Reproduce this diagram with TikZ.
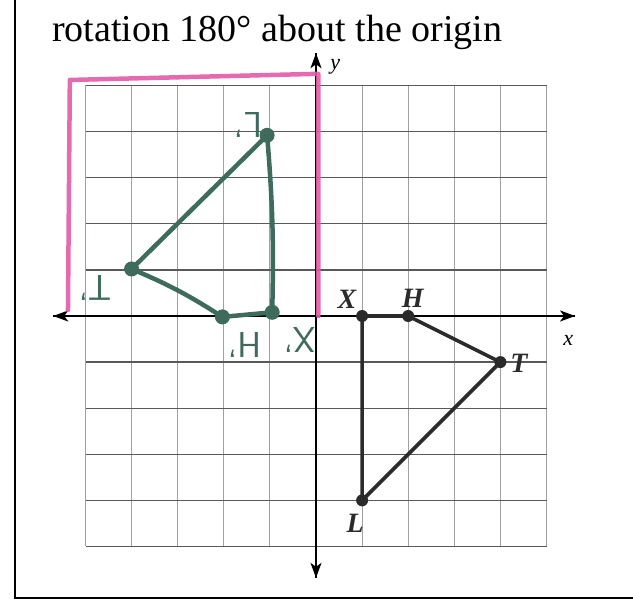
\documentclass[tikz,border=0pt]{standalone}
\usepackage{fontspec}
\setmainfont{Liberation Serif}
\usetikzlibrary{positioning,arrows.meta}
\definecolor{ink}{HTML}{2B2B2B}
\definecolor{pen}{HTML}{3E6B5C}
\definecolor{hilite}{HTML}{E25AA6}
\definecolor{gridgrey}{HTML}{A0A0A0}
\tikzset{
  gridv/.style={draw=gridgrey, line width=0.9pt},
  gridh/.style={draw=black!65, line width=1.3pt},
  axis/.style={-{Stealth[length=15pt,width=11pt,inset=4pt]}, line width=1.8pt, draw=black},
  vtx/.style={circle, fill=ink, inner sep=0pt, minimum size=12pt},
  gvtx/.style={circle, fill=pen, inner sep=0pt, minimum size=15pt},
  tri/.style={draw=ink, line width=3.6pt, line join=round},
  gtri/.style={draw=pen, line width=4.5pt, line cap=round},
  hl/.style={draw=hilite, line width=4.5pt, line join=round, line cap=round, opacity=0.9},
  lbl/.style={font=\fontsize{28}{30}\selectfont\bfseries\itshape, text=ink, inner sep=1pt},
  glbl/.style={font=\fontsize{36}{38}\selectfont\sffamily, text=pen, rotate=180, inner sep=1pt},
  axlbl/.style={font=\fontsize{22}{24}\selectfont\itshape, inner sep=1pt},
}

\begin{document}
\begin{tikzpicture}[x=1pt,y=1pt]
  \useasboundingbox (0,0) rectangle (633,600);
  % page frame and heading
  \coordinate (ftop) at (15,600);
  \coordinate (fcorner) at (15,2);
  \coordinate (fright) at (633,2);
  \draw[line width=2pt] (ftop) -- (fcorner) -- (fright);
  \node[anchor=base west, font=\fontsize{38}{44}\selectfont, inner sep=0pt] (title) at (52,558) {rotation 180° about the origin};

  \begin{scope}[shift={(316pt,284pt)}, x=46.1pt, y=46.1pt]
    \foreach \i in {-5,...,-1,1,2,...,5} {
      \draw[gridv] (\i,-5) -- (\i,5);
    }
    \foreach \j in {-5,...,-1,1,2,...,5} {
      \draw[gridh] (-5,\j) -- (5,\j);
    }
    % axes
    \coordinate (xl) at (-5.7,0);
    \coordinate (xr) at (5.62,0);
    \coordinate (yb) at (0,-5.68);
    \coordinate (yt) at (0,5.7);
    \draw[axis] (xr) -- (xl);
    \draw[axis] (xl) -- (xr);
    \draw[axis] (yb) -- (yt);
    \draw[axis] (yt) -- (yb);
    \node[axlbl] (xlab) at (5.47,-0.52) {x};
    \node[axlbl] (ylab) at (0.42,5.4) {y};

    % student's frame round quadrant II
    \coordinate (pk1) at (-5.38,0.13);
    \coordinate (pk2) at (-5.34,5.12);
    \coordinate (pk3) at (-0.09,5.25);
    \coordinate (pk4) at (0.05,5.25);
    \coordinate (pk5) at (0.05,0);
    \draw[hl] (pk1) -- (pk2) -- (pk3) -- (pk4) -- (pk5);

    % given triangle
    \node[vtx] (X) at (1,0) {};
    \node[vtx] (H) at (2,0) {};
    \node[vtx] (T) at (4,-1) {};
    \node[vtx] (L) at (1,-4) {};
    \draw[tri] (X.center) -- (H.center) -- (T.center) -- (L.center) -- cycle;
    \node[lbl] (Xl) at (0.67,0.37) {X};
    \node[lbl] (Hl) at (2.1,0.39) {H};
    \node[lbl] (Tl) at (4.4,-1.02) {T};
    \node[lbl] (Ll) at (0.85,-4.5) {L};

    % rotated image, drawn by hand
    \node[gvtx] (Lp) at (-1.06,3.92) {};
    \node[gvtx] (Tp) at (-4,1.02) {};
    \node[gvtx] (Hp) at (-2.03,-0.02) {};
    \node[gvtx] (Xp) at (-0.95,0.08) {};
    \draw[gtri] (Tp.center) -- (Lp.center);
    \draw[gtri] (Lp.center) to[bend left=3] (Xp.center);
    \draw[gtri] (Tp.center) to[bend left=5] (Hp.center);
    \draw[gtri] (Hp.center) -- (Xp.center);
    \node[glbl] (Lpl) at (-1.47,4.14) {L'};
    \node[glbl] (Tpl) at (-4.79,0.61) {T'};
    \node[glbl] (Hpl) at (-1.55,-0.63) {H'};
    \node[glbl] (Xpl) at (-0.35,-0.52) {X'};
  \end{scope}
\end{tikzpicture}
\end{document}
